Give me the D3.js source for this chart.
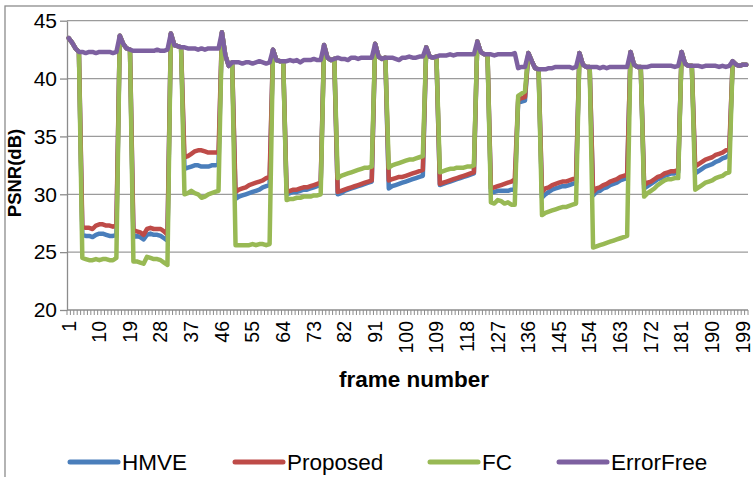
<!DOCTYPE html>
<html><head><meta charset="utf-8">
<script src="https://cdn.jsdelivr.net/npm/d3@7/dist/d3.min.js"></script>
<style>
body{margin:0;background:#fff}
svg{display:block}
text{font-family:"Liberation Sans",Arial,Helvetica,sans-serif;fill:#000}
</style>
</head><body>
<svg id="chart" width="753" height="477"></svg>
<script>
// ---------- data ----------
const frames = d3.range(1, 201);
const xTickLabels = [1,10,19,28,37,46,55,64,73,82,91,100,109,118,127,136,145,154,163,172,181,190,199];
const yTicks = [20,25,30,35,40,45];
const seriesNames = ["HMVE","Proposed","FC","ErrorFree"];
const seriesColors = ["#4a7ebb","#be4b48","#98b954","#7d60a0"];

const errorFree = [
43.5,43.1,42.6,42.3,42.3,42.2,42.3,42.3,42.2,42.3,42.3,42.3,42.3,42.2,42.3,
43.7,43.0,42.6,42.5,42.4,42.4,42.4,42.4,42.4,42.4,42.4,42.5,42.4,42.4,42.5,
43.9,42.9,42.8,42.7,42.7,42.6,42.6,42.6,42.5,42.6,42.5,42.6,42.6,42.6,42.6,
44.0,42.0,41.1,41.4,41.4,41.4,41.3,41.4,41.4,41.3,41.4,41.5,41.4,41.3,41.4,
42.5,41.6,41.5,41.5,41.5,41.6,41.5,41.6,41.4,41.6,41.6,41.6,41.7,41.6,41.6,
42.9,41.8,41.6,41.7,41.8,41.7,41.7,41.6,41.8,41.8,41.7,41.8,41.8,41.8,41.8,
43.0,41.9,41.7,41.8,41.8,41.8,41.7,41.6,41.8,41.8,41.9,41.8,41.8,41.9,41.9,
42.7,41.9,41.8,41.9,42.0,42.0,42.0,42.1,42.0,42.1,42.1,42.1,42.1,42.1,42.1,
43.2,42.3,42.1,42.1,42.1,42.0,42.1,42.1,42.1,42.1,42.1,42.2,40.9,41.0,41.0,
42.2,41.5,40.9,40.8,40.8,40.8,40.9,40.9,41.0,41.0,41.0,41.0,41.0,40.9,41.0,
42.2,41.2,41.0,41.0,41.0,41.0,40.9,41.0,40.9,41.0,41.0,41.0,41.0,41.0,41.0,
42.3,41.2,41.0,41.0,41.0,41.0,41.1,41.1,41.1,41.1,41.1,41.1,41.1,41.0,41.1,
42.3,41.3,41.1,41.1,41.1,41.1,41.0,41.1,41.1,41.1,41.1,41.0,41.1,41.0,41.1,
41.5,41.2,41.1,41.2,41.2
];

const hmve = [
43.5,43.1,42.6,42.3,26.5,26.4,26.4,26.3,26.5,26.6,26.6,26.5,26.4,26.4,26.5,
43.7,43.0,42.6,42.5,26.3,26.4,26.3,26.1,26.5,26.6,26.5,26.5,26.4,26.2,26.0,
43.9,42.9,42.8,42.7,32.2,32.3,32.4,32.5,32.5,32.4,32.4,32.4,32.5,32.5,32.6,
44.0,42.0,41.1,41.4,29.6,29.8,29.9,30.0,30.1,30.2,30.3,30.4,30.6,30.7,30.8,
42.5,41.6,41.5,41.5,30.0,30.1,30.2,30.2,30.3,30.4,30.4,30.5,30.6,30.7,30.8,
42.9,41.8,41.6,41.7,30.0,30.1,30.3,30.4,30.5,30.6,30.7,30.8,30.9,31.0,31.1,
43.0,41.9,41.7,41.8,30.5,30.7,30.8,30.9,31.0,31.1,31.2,31.3,31.4,31.5,31.6,
42.7,41.9,41.8,41.9,30.8,30.9,31.0,31.1,31.2,31.3,31.4,31.5,31.6,31.7,31.8,
43.2,42.3,42.1,42.1,30.2,30.2,30.3,30.3,30.3,30.3,30.4,30.4,38.0,38.0,38.1,
42.2,41.5,40.9,40.8,29.7,30.0,30.2,30.4,30.5,30.6,30.7,30.7,30.8,30.9,31.0,
42.2,41.2,41.0,41.0,29.9,30.2,30.3,30.5,30.6,30.8,30.9,31.0,31.2,31.3,31.4,
42.3,41.2,41.0,41.0,30.5,30.7,30.9,31.1,31.3,31.4,31.6,31.7,31.8,31.8,31.9,
42.3,41.3,41.1,41.1,31.8,32.0,32.2,32.4,32.5,32.6,32.8,32.9,33.1,33.2,33.4,
41.5,41.2,41.1,41.2,41.2
];

const proposed = [
43.5,43.1,42.6,42.3,27.2,27.1,27.1,27.0,27.3,27.4,27.4,27.3,27.3,27.2,27.3,
43.7,43.0,42.6,42.5,26.9,26.8,26.7,26.5,27.0,27.1,27.0,27.0,27.0,26.8,26.5,
43.9,42.9,42.8,42.7,33.2,33.3,33.5,33.7,33.8,33.8,33.7,33.6,33.6,33.6,33.6,
44.0,42.0,41.1,41.4,30.2,30.4,30.5,30.6,30.8,30.9,31.0,31.1,31.2,31.4,31.5,
42.5,41.6,41.5,41.5,30.2,30.3,30.4,30.4,30.5,30.6,30.6,30.7,30.8,30.9,31.0,
42.9,41.8,41.6,41.7,30.2,30.3,30.4,30.5,30.6,30.7,30.8,30.9,31.0,31.1,31.2,
43.0,41.9,41.7,41.8,31.2,31.3,31.4,31.5,31.5,31.6,31.7,31.8,31.9,32.0,32.1,
42.7,41.9,41.8,41.9,30.9,31.0,31.1,31.2,31.3,31.4,31.5,31.6,31.7,31.8,31.9,
43.2,42.3,42.1,42.1,30.5,30.6,30.7,30.8,30.9,31.0,31.1,31.3,38.2,38.3,38.4,
42.2,41.5,40.9,40.8,30.2,30.5,30.6,30.8,30.9,31.0,31.1,31.1,31.2,31.3,31.4,
42.2,41.2,41.0,41.0,30.2,30.5,30.6,30.8,30.9,31.1,31.2,31.3,31.5,31.6,31.7,
42.3,41.2,41.0,41.0,30.8,31.0,31.1,31.3,31.5,31.6,31.8,31.9,32.0,32.0,32.1,
42.3,41.3,41.1,41.1,32.4,32.6,32.8,33.0,33.1,33.2,33.4,33.5,33.6,33.8,33.9,
41.5,41.2,41.1,41.2,41.2
];

const fc = [
43.5,43.1,42.6,42.3,24.5,24.4,24.3,24.3,24.4,24.3,24.4,24.4,24.3,24.3,24.5,
43.7,43.0,42.6,42.5,24.2,24.2,24.1,24.0,24.6,24.5,24.4,24.4,24.3,24.1,23.9,
43.9,42.9,42.8,42.7,30.0,30.1,30.3,30.1,30.0,29.7,29.8,30.0,30.1,30.2,30.3,
44.0,42.0,41.1,41.4,25.6,25.6,25.6,25.6,25.6,25.7,25.6,25.7,25.7,25.6,25.7,
42.5,41.6,41.5,41.5,29.5,29.6,29.6,29.7,29.7,29.8,29.8,29.8,29.9,29.9,30.0,
42.9,41.8,41.6,41.7,31.4,31.6,31.7,31.8,31.9,32.0,32.1,32.2,32.3,32.3,32.4,
43.0,41.9,41.7,41.8,32.3,32.5,32.6,32.7,32.8,32.9,33.0,33.0,33.1,33.2,33.3,
42.7,41.9,41.8,41.9,31.9,32.0,32.1,32.2,32.2,32.3,32.3,32.3,32.4,32.4,32.5,
43.2,42.3,42.1,42.1,29.3,29.2,29.5,29.4,29.2,29.3,29.1,29.1,38.5,38.7,38.9,
42.2,41.5,40.9,40.8,28.2,28.4,28.5,28.6,28.7,28.8,28.9,28.9,29.0,29.1,29.2,
42.2,41.2,41.0,41.0,25.4,25.5,25.6,25.7,25.8,25.9,26.0,26.1,26.2,26.3,26.4,
42.3,41.2,41.0,41.0,29.8,30.1,30.3,30.5,30.8,31.0,31.2,31.3,31.3,31.4,31.4,
42.3,41.3,41.1,41.1,30.4,30.6,30.8,31.0,31.1,31.2,31.4,31.5,31.6,31.8,31.9,
41.5,41.2,41.1,41.2,41.2
];

const seriesValues = [hmve, proposed, fc, errorFree];

// ---------- layout ----------
const svg = d3.select("#chart");
const plot = {left: 67, right: 748, top: 20.7, bottom: 310};

const x = d3.scaleBand().domain(frames).range([plot.left, plot.right]).paddingInner(0).paddingOuter(0);
const cx = f => x(f) + x.bandwidth() / 2;
const y = d3.scaleLinear().domain([20, 45]).range([plot.bottom, plot.top]);

// chart border
svg.append("rect").attr("x", 5).attr("y", 6).attr("width", 800).attr("height", 520)
  .attr("fill", "none").attr("stroke", "#8c8c8c").attr("stroke-width", 1.3);

// gridlines
svg.append("g").selectAll("line").data(yTicks.filter(t => t > 20)).join("line")
  .attr("x1", plot.left).attr("x2", plot.right)
  .attr("y1", d => y(d)).attr("y2", d => y(d))
  .attr("stroke", "#9b9b9b").attr("stroke-width", 1.3);

// y axis
const yAxis = svg.append("g").attr("transform", `translate(${plot.left},0)`)
  .call(d3.axisLeft(y).tickValues(yTicks).tickSize(7).tickSizeOuter(0).tickPadding(3));
yAxis.select(".domain").attr("stroke", "#8c8c8c").attr("stroke-width", 1.3);
yAxis.selectAll(".tick line").attr("stroke", "#8c8c8c").attr("stroke-width", 1.3);
yAxis.selectAll(".tick text").attr("font-size", 21).attr("font-family", "Liberation Sans, Arial, sans-serif").attr("fill", "#000");

// x axis line & dense ticks
const xg = svg.append("g");
xg.append("line").attr("x1", plot.left).attr("x2", plot.right)
  .attr("y1", plot.bottom).attr("y2", plot.bottom).attr("stroke", "#8c8c8c").attr("stroke-width", 1.3);
const boundaries = frames.map(f => x(f)).concat([plot.right]);
xg.selectAll("line.tk").data(boundaries).join("line").attr("class", "tk")
  .attr("x1", d => d).attr("x2", d => d)
  .attr("y1", plot.bottom).attr("y2", plot.bottom + 5)
  .attr("stroke", "#8c8c8c").attr("stroke-width", 1);
xg.selectAll("text").data(xTickLabels).join("text")
  .attr("transform", d => `translate(${cx(d)},321) rotate(-90)`)
  .attr("text-anchor", "end").attr("dy", "0.35em")
  .attr("font-size", 19.5).text(d => d);

// axis titles
svg.append("text").attr("x", 414).attr("y", 387).attr("text-anchor", "middle")
  .attr("font-size", 22.5).attr("font-weight", "bold").text("frame number");
svg.append("text").attr("transform", "translate(21,173) rotate(-90)")
  .attr("text-anchor", "middle").attr("font-size", 18.5).attr("font-weight", "bold").text("PSNR(dB)");

// series lines
const line = d3.line().x((d, i) => cx(frames[i])).y(d => y(d));
svg.append("g").selectAll("path").data(seriesValues).join("path")
  .attr("d", d => line(d))
  .attr("fill", "none")
  .attr("stroke", (d, i) => seriesColors[i])
  .attr("stroke-width", 4.5)
  .attr("stroke-linejoin", "round").attr("stroke-linecap", "round");

// legend
const legendX = [70, 235, 430, 559];
const lg = svg.append("g").selectAll("g").data(seriesNames).join("g")
  .attr("transform", (d, i) => `translate(${legendX[i]},462)`);
lg.append("line").attr("x1", 0).attr("x2", 48).attr("y1", 0).attr("y2", 0)
  .attr("stroke", (d, i) => seriesColors[i]).attr("stroke-width", 5).attr("stroke-linecap", "round");
lg.append("text").attr("x", 52).attr("y", 7.5).attr("font-size", 22.5).text(d => d);
</script>
</body></html>
